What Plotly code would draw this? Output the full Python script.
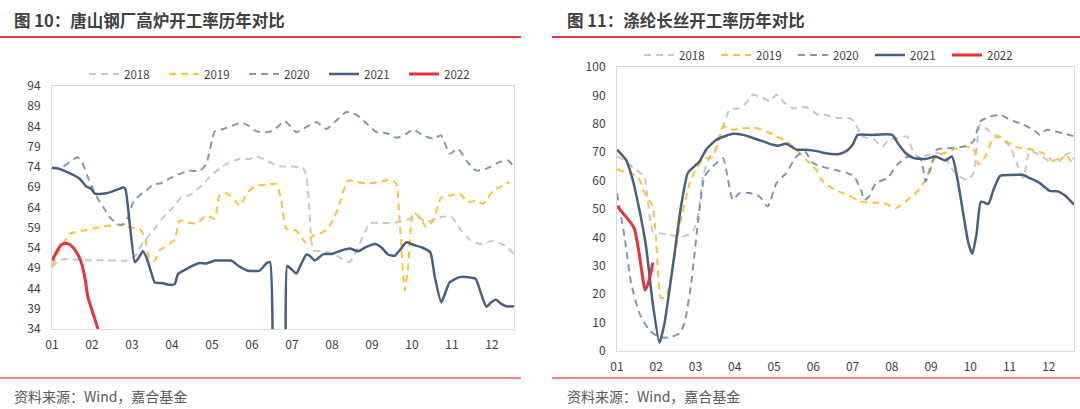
import plotly.graph_objects as go

# ---------------- DATA ----------------
YEARS = ["2018", "2019", "2020", "2021", "2022"]
MONTH_LABELS = ["01", "02", "03", "04", "05", "06", "07", "08", "09", "10", "11", "12"]
MONTH_POS = list(range(12))

TITLE_L = "图 10：唐山钢厂高炉开工率历年对比"
TITLE_R = "图 11：涤纶长丝开工率历年对比"
SOURCE = "资料来源：Wind，嘉合基金"

# Left panel: Tangshan blast furnace operating rate (x = month position, 0 = Jan start)
TS18_X = [0, 0.15, 0.32, 0.78, 1.19, 1.94, 2.11, 2.28, 2.53, 2.78, 3.03, 3.23, 3.44, 3.69, 3.94, 4.19, 4.44, 4.69, 4.94, 5.11, 5.36, 5.6, 5.85, 6.05, 6.27, 6.36, 6.44, 6.53, 6.73, 6.94, 7.19, 7.44, 7.69, 7.94, 8.19, 8.53, 8.86, 9.11, 9.36, 9.69, 9.98, 10.23, 10.48, 10.73, 11.02, 11.32, 11.55]
TS18_Y = [49.2, 50.9, 51.3, 51.0, 51.0, 51.0, 52.5, 55.4, 58.3, 61.6, 64.1, 66.5, 67.0, 69.0, 71.5, 73.6, 75.2, 76.0, 76.0, 76.6, 75.6, 74.4, 74.1, 74.1, 73.8, 71.9, 62.4, 53.4, 53.2, 52.9, 51.7, 50.5, 55.0, 60.1, 60.2, 60.2, 60.9, 61.8, 60.4, 61.6, 61.8, 58.3, 55.8, 55.0, 55.8, 54.6, 52.5]

TS19_X = [0, 0.19, 0.44, 0.78, 1.19, 1.61, 1.94, 2.19, 2.32, 2.44, 2.57, 2.69, 2.94, 3.07, 3.19, 3.36, 3.61, 3.86, 4.07, 4.19, 4.36, 4.57, 4.69, 4.9, 5.07, 5.36, 5.61, 5.73, 5.86, 6.11, 6.23, 6.36, 6.53, 6.78, 6.94, 7.15, 7.4, 7.61, 7.94, 8.19, 8.48, 8.61, 8.69, 8.82, 8.9, 9.03, 9.19, 9.36, 9.53, 9.73, 9.98, 10.19, 10.4, 10.61, 10.78, 11.03, 11.28, 11.44]
TS19_Y = [49.6, 53.4, 57.5, 58.3, 59.1, 59.8, 59.1, 58.7, 56.7, 51.3, 50.9, 53.4, 55.0, 56.2, 60.8, 60.4, 60.0, 62.0, 61.2, 67.0, 67.5, 65.7, 64.5, 67.8, 69.2, 69.7, 69.8, 65.7, 58.7, 58.3, 56.7, 55.2, 57.1, 57.9, 59.5, 63.7, 70.7, 70.3, 70.0, 70.3, 70.9, 69.8, 60.8, 43.5, 49.2, 62.8, 61.6, 59.1, 60.8, 66.5, 67.0, 67.4, 65.3, 65.7, 64.9, 68.2, 69.4, 70.3]

TS20_X = [0, 0.28, 0.44, 0.63, 0.73, 0.88, 1.07, 1.28, 1.48, 1.69, 1.82, 1.9, 2.03, 2.19, 2.36, 2.53, 2.73, 2.94, 3.19, 3.44, 3.69, 3.86, 4.07, 4.28, 4.53, 4.73, 4.9, 5.11, 5.36, 5.53, 5.82, 6.11, 6.36, 6.61, 6.86, 7.11, 7.36, 7.61, 7.86, 8.11, 8.36, 8.61, 8.86, 9.03, 9.28, 9.53, 9.73, 9.94, 10.15, 10.36, 10.61, 10.86, 11.19, 11.4, 11.55]
TS20_Y = [73.6, 74.1, 75.2, 76.4, 75.6, 71.9, 67.5, 64.1, 61.2, 59.7, 60.0, 61.6, 65.3, 67.0, 68.2, 69.7, 70.0, 71.2, 72.3, 73.1, 73.0, 74.8, 82.8, 83.4, 84.3, 84.9, 84.3, 82.8, 82.6, 83.0, 85.3, 82.6, 83.9, 85.1, 83.4, 85.5, 87.6, 86.9, 84.8, 82.6, 82.4, 81.2, 82.2, 83.3, 81.8, 81.0, 81.8, 77.3, 78.5, 75.6, 73.1, 73.6, 75.2, 75.6, 74.1]

TS21_X = [0, 0.15, 0.48, 0.69, 0.86, 0.98, 1.07, 1.36, 1.73, 1.78, 1.84, 2.07, 2.15, 2.27, 2.36, 2.48, 2.57, 2.78, 2.94, 3.07, 3.15, 3.32, 3.53, 3.69, 3.86, 4.07, 4.28, 4.48, 4.69, 4.9, 5.19, 5.36, 5.45, 5.52, 5.56, 5.8, 5.84, 5.88, 5.98, 6.11, 6.23, 6.36, 6.44, 6.57, 6.78, 6.98, 7.23, 7.44, 7.65, 7.86, 8.07, 8.23, 8.4, 8.57, 8.69, 8.86, 9.03, 9.28, 9.46, 9.57, 9.73, 9.82, 9.94, 10.19, 10.4, 10.59, 10.73, 10.86, 10.98, 11.1, 11.23, 11.36, 11.55]
TS21_Y = [73.8, 73.6, 72.3, 71.1, 69.2, 68.6, 67.4, 67.5, 68.8, 69.0, 68.4, 50.5, 51.3, 53.2, 51.7, 48.0, 45.5, 45.3, 44.9, 45.1, 47.6, 48.6, 49.7, 50.3, 50.2, 50.9, 50.9, 50.9, 49.4, 48.4, 48.4, 50.2, 50.5, 30.0, 10.0, 10.0, 30.0, 49.6, 48.8, 47.7, 50.1, 52.4, 52.1, 50.9, 52.5, 52.5, 53.4, 53.9, 53.2, 54.3, 55.0, 54.2, 52.4, 52.1, 53.4, 55.4, 54.8, 54.0, 52.9, 46.8, 40.6, 42.6, 45.5, 46.8, 46.8, 46.4, 42.6, 39.5, 40.6, 41.2, 40.2, 39.6, 39.6]

TS22_X = [0, 0.11, 0.23, 0.36, 0.48, 0.61, 0.73, 0.82, 0.9, 1.03, 1.15]
TS22_Y = [50.9, 53.0, 54.8, 55.2, 54.6, 53.0, 50.5, 46.8, 41.8, 37.7, 34.0]

# Right panel: polyester filament operating rate
PF18_X = [0, 0.23, 0.48, 0.7, 0.78, 0.91, 1.08, 1.34, 1.68, 1.93, 2.06, 2.19, 2.36, 2.53, 2.7, 2.87, 3.12, 3.29, 3.46, 3.72, 3.89, 4.06, 4.27, 4.48, 4.82, 5.12, 5.28, 5.62, 5.92, 6.04, 6.25, 6.55, 6.76, 6.93, 7.18, 7.39, 7.52, 7.73, 7.86, 8.11, 8.32, 8.49, 8.66, 8.91, 9.08, 9.25, 9.5, 9.76, 10.01, 10.18, 10.35, 10.51, 10.77, 11.02, 11.27, 11.52, 11.64]
PF18_Y = [68.5, 66.7, 63.8, 61.5, 53.2, 42.1, 41.5, 40.9, 40.3, 42.1, 47.4, 61.5, 68.5, 71.4, 79.1, 85.0, 85.5, 87.3, 90.2, 89.1, 87.9, 90.2, 87.3, 85.5, 85.9, 83.2, 83.2, 82.0, 82.0, 80.8, 75.6, 74.4, 72.0, 74.4, 75.0, 75.6, 70.9, 67.3, 68.7, 69.7, 69.1, 65.0, 62.0, 60.3, 62.6, 79.7, 77.3, 75.0, 72.0, 66.2, 60.9, 70.3, 69.1, 66.7, 67.9, 69.7, 67.3]

PF19_X = [0, 0.31, 0.53, 0.7, 0.91, 0.99, 1.12, 1.25, 1.42, 1.63, 1.85, 2.02, 2.23, 2.44, 2.7, 2.95, 3.29, 3.55, 3.8, 4.06, 4.31, 4.57, 4.82, 5.08, 5.2, 5.54, 5.87, 6.21, 6.55, 6.8, 7.1, 7.35, 7.65, 7.86, 8.03, 8.24, 8.57, 8.87, 9.08, 9.21, 9.38, 9.54, 9.71, 9.92, 10.18, 10.51, 10.85, 11.19, 11.44, 11.61]
PF19_Y = [64.0, 62.6, 61.5, 55.6, 50.9, 40.3, 18.6, 19.2, 29.7, 46.2, 59.1, 64.4, 67.9, 68.3, 79.1, 77.9, 78.5, 78.5, 77.3, 75.6, 73.8, 70.9, 67.3, 63.8, 60.3, 56.8, 55.0, 52.6, 52.3, 52.1, 50.3, 52.6, 56.2, 60.3, 66.7, 69.1, 70.9, 72.0, 71.4, 65.6, 68.5, 73.8, 75.6, 73.8, 71.8, 71.1, 69.7, 66.2, 69.1, 65.6]

PF20_X = [0, 0.19, 0.36, 0.57, 0.82, 1.08, 1.34, 1.59, 1.72, 1.89, 2.06, 2.23, 2.44, 2.7, 2.78, 2.95, 3.12, 3.38, 3.63, 3.84, 4.06, 4.31, 4.57, 4.78, 4.99, 5.2, 5.54, 5.87, 6.04, 6.21, 6.3, 6.42, 6.59, 6.89, 7.14, 7.39, 7.73, 7.86, 7.98, 8.15, 8.49, 8.83, 9.08, 9.25, 9.5, 9.76, 10.01, 10.35, 10.6, 10.77, 10.94, 11.36, 11.64]
PF20_Y = [55.6, 40.3, 23.9, 13.3, 7.4, 4.8, 4.8, 6.2, 9.8, 23.9, 45.0, 61.5, 65.0, 67.9, 63.8, 53.2, 55.6, 55.6, 54.4, 50.9, 59.1, 62.6, 68.5, 70.3, 66.2, 65.0, 63.8, 62.6, 61.5, 56.8, 53.2, 54.4, 59.1, 60.9, 65.6, 68.3, 67.9, 59.7, 63.8, 70.9, 71.4, 72.0, 73.8, 80.8, 82.6, 83.2, 81.4, 79.7, 77.9, 76.1, 77.9, 76.7, 75.6]

PF21_X = [0, 0.23, 0.4, 0.57, 0.74, 0.91, 1.08, 1.21, 1.42, 1.63, 1.8, 1.97, 2.1, 2.27, 2.53, 2.78, 2.95, 3.21, 3.46, 3.72, 3.97, 4.1, 4.31, 4.57, 4.82, 5.12, 5.28, 5.62, 5.83, 6.0, 6.13, 6.46, 7.01, 7.18, 7.35, 7.56, 7.86, 8.11, 8.36, 8.53, 8.66, 8.83, 8.95, 9.05, 9.16, 9.27, 9.46, 9.59, 9.76, 10.01, 10.35, 10.51, 10.77, 11.02, 11.23, 11.44, 11.64]
PF21_Y = [70.9, 67.3, 60.3, 49.7, 36.8, 16.8, 2.9, 9.8, 29.7, 50.9, 62.6, 65.0, 66.7, 70.9, 74.4, 75.8, 76.5, 76.1, 75.0, 73.8, 72.6, 72.3, 73.0, 70.9, 70.9, 70.3, 69.7, 69.3, 70.3, 72.6, 76.1, 76.1, 76.1, 72.6, 69.7, 67.9, 67.6, 68.5, 67.1, 68.5, 61.5, 47.4, 38.0, 34.2, 41.5, 52.6, 51.8, 56.8, 61.7, 62.0, 62.0, 60.9, 59.1, 56.4, 56.2, 54.4, 51.5]

PF22_X = [0, 0.19, 0.31, 0.44, 0.55, 0.65, 0.71, 0.78, 0.87, 0.91]
PF22_Y = [51.1, 47.9, 45.9, 43.2, 35.6, 26.2, 21.5, 23.3, 28.0, 31.1]

LEFT_YTICKS = [34, 39, 44, 49, 54, 59, 64, 69, 74, 79, 84, 89, 94]
RIGHT_YTICKS = [0, 10, 20, 30, 40, 50, 60, 70, 80, 90, 100]

# ---------------- STYLE ----------------
W, H = 1080, 409
FONT = "Noto Sans CJK SC"
TXT = "#404040"
RED = "#E0383C"
STYLES = {
    "2018": dict(color="#C8C8C8", width=2, dash="7px,5px"),
    "2019": dict(color="#FFC03A", width=2, dash="7px,5px"),
    "2020": dict(color="#8497B0", width=2, dash="7px,5px"),
    "2021": dict(color="#4A5F80", width=2.5, dash="solid"),
    "2022": dict(color="#E8333C", width=3, dash="solid"),
}

def px_x(x):
    return x / W

def px_y(y):
    return 1 - y / H

fig = go.Figure()

left_series = [(TS18_X, TS18_Y), (TS19_X, TS19_Y), (TS20_X, TS20_Y), (TS21_X, TS21_Y), (TS22_X, TS22_Y)]
right_series = [(PF18_X, PF18_Y), (PF19_X, PF19_Y), (PF20_X, PF20_Y), (PF21_X, PF21_Y), (PF22_X, PF22_Y)]

for yr, (xs, ys) in zip(YEARS, left_series):
    fig.add_trace(go.Scatter(x=xs, y=ys, mode="lines", name=yr, xaxis="x", yaxis="y",
                             line=dict(shape="spline", smoothing=0.5, **STYLES[yr]),
                             legend="legend", hoverinfo="skip"))
for yr, (xs, ys) in zip(YEARS, right_series):
    fig.add_trace(go.Scatter(x=xs, y=ys, mode="lines", name=yr, xaxis="x2", yaxis="y2",
                             line=dict(shape="spline", smoothing=0.5, **STYLES[yr]),
                             legend="legend2", hoverinfo="skip"))

axis_common = dict(showgrid=False, zeroline=False, showline=True, linecolor="#D9D9D9",
                   linewidth=1, mirror=True, tickfont=dict(family=FONT, size=12, color=TXT),
                   ticks="outside", tickcolor="rgba(0,0,0,0)")

legend_common = dict(orientation="h", font=dict(family=FONT, size=11.5, color=TXT),
                     bgcolor="rgba(0,0,0,0)", entrywidthmode="pixels",
                     xanchor="left", yanchor="middle", itemclick=False, itemdoubleclick=False)

fig.update_layout(
    width=W, height=H, margin=dict(l=0, r=0, t=0, b=0, autoexpand=False),
    paper_bgcolor="white", plot_bgcolor="white",
    xaxis=dict(domain=[px_x(52), px_x(514)], range=[0, 11.55], tickvals=MONTH_POS,
               ticktext=MONTH_LABELS, anchor="y", ticklen=5, automargin=False, **axis_common),
    yaxis=dict(domain=[px_y(329), px_y(86)], range=[34, 94], tickvals=LEFT_YTICKS,
               anchor="x", ticklen=8, automargin=False, **axis_common),
    xaxis2=dict(domain=[px_x(617), px_x(1074)], range=[0, 11.64], tickvals=MONTH_POS,
                ticktext=MONTH_LABELS, anchor="y2", ticklen=5, automargin=False, **axis_common),
    yaxis2=dict(domain=[px_y(351), px_y(67)], range=[0, 100], tickvals=RIGHT_YTICKS,
                anchor="x2", ticklen=8, automargin=False, **axis_common),
    legend=dict(x=px_x(84), y=px_y(74), entrywidth=35, **legend_common),
    legend2=dict(x=px_x(639), y=px_y(55), entrywidth=32, **legend_common),
    showlegend=True,
)

annotations = [
    dict(text=TITLE_L, x=px_x(12), y=px_y(20), xanchor="left", yanchor="middle"),
    dict(text=TITLE_R, x=px_x(565), y=px_y(20), xanchor="left", yanchor="middle"),
]
for a in annotations:
    fig.add_annotation(xref="paper", yref="paper", showarrow=False,
                       font=dict(family=FONT, size=16.5, color=TXT, weight="bold"), **a)
for sx in (12, 565):
    fig.add_annotation(xref="paper", yref="paper", showarrow=False, text=SOURCE,
                       x=px_x(sx), y=px_y(396), xanchor="left", yanchor="middle",
                       font=dict(family=FONT, size=14, color="#595959"))

for (x0, x1) in ((0, 521), (552, 1080)):
    fig.add_shape(type="line", xref="paper", yref="paper", x0=px_x(x0), x1=px_x(x1),
                  y0=px_y(37), y1=px_y(37), line=dict(color=RED, width=2))
    fig.add_shape(type="line", xref="paper", yref="paper", x0=px_x(x0), x1=px_x(x1),
                  y0=px_y(378), y1=px_y(378), line=dict(color="#E86060", width=1.5))

fig.write_html("out.html")
